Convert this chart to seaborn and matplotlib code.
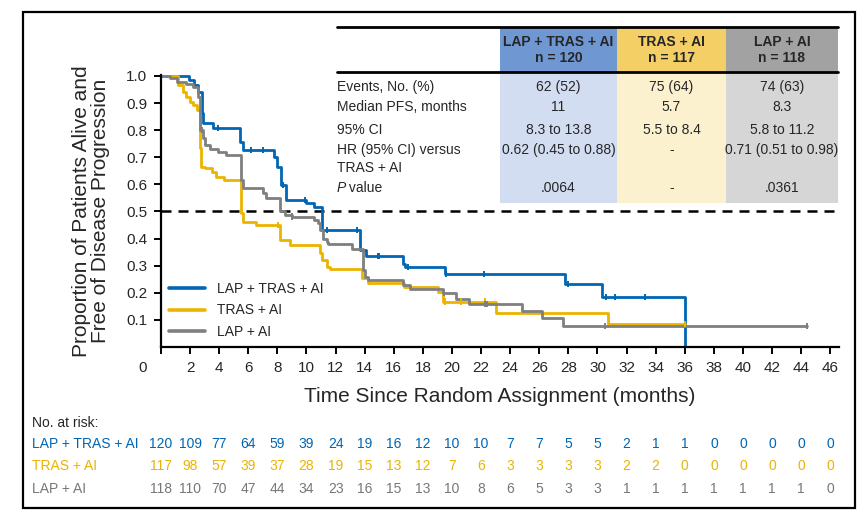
import numpy as np
import pandas as pd
import seaborn as sns
import matplotlib.pyplot as plt
from matplotlib.patches import Rectangle
from matplotlib.lines import Line2D
from matplotlib.transforms import blended_transform_factory

arms = ['LAP + TRAS + AI', 'TRAS + AI', 'LAP + AI']
colors = ['#0066B3', '#EBB400', '#7F7F7F']

# Kaplan-Meier steps (months, proportion)
t_lta = [0, 1.9, 2.3, 2.55, 2.8, 2.9, 3.6, 5.4, 5.65, 7.8, 8.0, 8.25, 8.6, 10.0, 10.5, 11.05,
         13.7, 14.1, 16.6, 16.8, 19.5, 27.8, 30.3, 36.0]
s_lta = [1.0, 0.985, 0.967, 0.942, 0.863, 0.826, 0.808, 0.757, 0.727, 0.702, 0.665, 0.598, 0.542,
         0.53, 0.518, 0.432, 0.358, 0.336, 0.305, 0.295, 0.269, 0.232, 0.185, 0.0]
t_ta = [0, 1.15, 1.5, 1.75, 2.0, 2.2, 2.45, 2.7, 2.75, 3.0, 3.5, 3.8, 4.3, 5.5, 5.65, 6.5, 8.2,
        8.9, 10.95, 11.05, 11.4, 11.6, 13.8, 14.2, 16.7, 19.05, 19.4, 23.0, 30.7, 36.0]
s_ta = [1.0, 0.967, 0.942, 0.924, 0.905, 0.893, 0.875, 0.734, 0.665, 0.66, 0.647, 0.628, 0.616,
        0.494, 0.462, 0.45, 0.395, 0.376, 0.347, 0.321, 0.296, 0.288, 0.253, 0.237, 0.222, 0.204,
        0.167, 0.127, 0.085, 0.085]
t_la = [0, 0.6, 1.1, 1.75, 2.2, 2.55, 2.7, 2.9, 3.0, 3.35, 3.9, 4.5, 5.5, 5.65, 7.0, 7.25, 8.2,
        8.5, 9.0, 10.5, 10.8, 10.9, 11.15, 11.4, 11.5, 13.1, 13.9, 14.0, 14.25, 16.6, 17.1, 19.4,
        20.3, 21.2, 24.8, 26.2, 27.6, 44.4]
s_la = [1.0, 0.991, 0.979, 0.97, 0.96, 0.924, 0.80, 0.77, 0.745, 0.729, 0.72, 0.708, 0.616, 0.585,
        0.567, 0.548, 0.50, 0.487, 0.481, 0.469, 0.456, 0.432, 0.40, 0.389, 0.38, 0.36, 0.284,
        0.259, 0.247, 0.229, 0.214, 0.199, 0.177, 0.159, 0.133, 0.107, 0.078, 0.078]

# censoring times
c_lta = [3.9, 6.2, 7.0, 8.4, 9.9, 11.4, 13.5, 14.9, 15.0, 17.0, 19.6, 22.2, 28.0, 30.6, 31.2, 33.3]
c_ta = [8.05, 19.5, 20.6, 22.3, 36.0]
c_la = [2.85, 9.0, 19.45, 22.3, 22.4, 30.5, 44.4]

months = list(range(0, 47, 2))
risk_lta = [120, 109, 77, 64, 59, 39, 24, 19, 16, 12, 10, 10, 7, 7, 5, 5, 2, 1, 1, 0, 0, 0, 0, 0]
risk_ta = [117, 98, 57, 39, 37, 28, 19, 15, 13, 12, 7, 6, 3, 3, 3, 3, 2, 2, 0, 0, 0, 0, 0, 0]
risk_la = [118, 110, 70, 47, 44, 34, 23, 16, 15, 13, 10, 8, 6, 5, 3, 3, 1, 1, 1, 1, 1, 1, 1, 0]

n_arm = [120, 117, 118]
row_labels = ['Events, No. (%)', 'Median PFS, months', '95% CI', 'HR (95% CI) versus', 'value']
col_lta = ['62 (52)', '11', '8.3 to 13.8', '0.62 (0.45 to 0.88)', '.0064']
col_ta = ['75 (64)', '5.7', '5.5 to 8.4', '-', '-']
col_la = ['74 (63)', '8.3', '5.8 to 11.2', '0.71 (0.51 to 0.98)', '.0361']

head_colors = ['#6F98D3', '#F4CF66', '#A2A2A2']
body_colors = ['#D2DDF2', '#FCF1CF', '#D6D6D6']

sns.set_style('ticks')
plt.rcParams['font.family'] = ['Liberation Sans', 'DejaVu Sans']

W, H = 865, 525
fx = lambda px: px / W
fy = lambda py: 1 - py / H

curves = pd.concat([
    pd.DataFrame({'t': t_lta, 's': s_lta, 'arm': arms[0]}),
    pd.DataFrame({'t': t_ta, 's': s_ta, 'arm': arms[1]}),
    pd.DataFrame({'t': t_la, 's': s_la, 'arm': arms[2]}),
], ignore_index=True)


def cens_frame(ts, ss, cs, arm):
    idx = np.searchsorted(np.asarray(ts), cs, side='right') - 1
    return pd.DataFrame({'t': cs, 's': np.asarray(ss)[idx], 'arm': arm})


cens = pd.concat([cens_frame(t_lta, s_lta, c_lta, arms[0]),
                  cens_frame(t_ta, s_ta, c_ta, arms[1]),
                  cens_frame(t_la, s_la, c_la, arms[2])], ignore_index=True)

fig = plt.figure(figsize=(8.65, 5.25), dpi=100)
ax = fig.add_axes([fx(161), fy(347), 678 / W, 272.4 / H])
pal = dict(zip(arms, colors))

sns.lineplot(data=curves, x='t', y='s', hue='arm', hue_order=arms, palette=pal,
             estimator=None, sort=False, drawstyle='steps-post', lw=2.0, ax=ax, legend=False)
sns.scatterplot(data=cens, x='t', y='s', hue='arm', hue_order=arms, palette=pal,
                marker='|', s=22, linewidth=1.4, ax=ax, legend=False, zorder=4)

ax.axhline(0.5, color='black', ls=(0, (4, 2.8)), lw=1.8, zorder=1)

ax.set_xlim(0, 46.6)
ax.set_ylim(0, 1.005)
ax.set_xticks(months)
ax.set_xticklabels([''] + [str(m) for m in months[1:]], fontsize=11)
yt = np.round(np.arange(0.1, 1.01, 0.1), 1)
ax.set_yticks(yt)
ax.set_yticklabels([f'{v:.1f}' for v in yt], fontsize=11)
ax.tick_params(axis='both', direction='out', length=5, width=1.4, color='black', pad=5)
for sp in ['top', 'right']:
    ax.spines[sp].set_visible(False)
for sp in ['left', 'bottom']:
    ax.spines[sp].set_linewidth(1.6)
    ax.spines[sp].set_color('black')
ax.set_xlabel('')
ax.set_ylabel('')

handles = [Line2D([], [], color=c, lw=2.6) for c in colors]
ax.legend(handles, arms, loc='upper left', bbox_to_anchor=(0.0, 0.27), frameon=False,
          fontsize=10, handlelength=2.6, handletextpad=0.8, labelspacing=0.55, borderaxespad=0.2)

fig.text(fx(143), fy(368), '0', ha='center', va='center', fontsize=11)
fig.text(fx(91), fy(211), 'Proportion of Patients Alive and\nFree of Disease Progression',
         rotation=90, ha='center', va='center', fontsize=15, linespacing=1.05)
fig.text(fx(500), fy(396), 'Time Since Random Assignment (months)', ha='center', va='center',
         fontsize=15)

# summary table
col_x = [(500, 617), (617, 726), (726, 838)]
cols = [col_lta, col_ta, col_la]
for (x0, x1), hc, bc in zip(col_x, head_colors, body_colors):
    fig.patches.append(Rectangle((fx(x0), fy(72)), (x1 - x0) / W, 45 / H, transform=fig.transFigure,
                                 facecolor=hc, edgecolor='none', zorder=0))
    fig.patches.append(Rectangle((fx(x0), fy(203)), (x1 - x0) / W, 131 / H, transform=fig.transFigure,
                                 facecolor=bc, edgecolor='none', zorder=0))
for yy in (27, 72):
    fig.add_artist(Line2D([fx(337), fx(838)], [fy(yy), fy(yy)], color='black', lw=2.0))
for (x0, x1), arm, n in zip(col_x, arms, n_arm):
    xc = fx((x0 + x1) / 2)
    fig.text(xc, fy(42), arm, ha='center', va='center', fontsize=10, fontweight='bold')
    fig.text(xc, fy(58), f'n = {n}', ha='center', va='center', fontsize=10, fontweight='bold')
row_y = [87, 107, 130, 150, 188]
for lab, yy in zip(row_labels, row_y):
    if lab == 'value':
        fig.text(fx(337), fy(yy), 'P', ha='left', va='center', fontsize=10, style='italic')
        fig.text(fx(345), fy(yy), ' value', ha='left', va='center', fontsize=10)
    else:
        fig.text(fx(337), fy(yy), lab, ha='left', va='center', fontsize=10)
fig.text(fx(337), fy(168), 'TRAS + AI', ha='left', va='center', fontsize=10)
for (x0, x1), vals in zip(col_x, cols):
    for v, yy in zip(vals, row_y):
        fig.text(fx((x0 + x1) / 2), fy(yy), v, ha='center', va='center', fontsize=10)

# number at risk
fig.text(fx(32), fy(423), 'No. at risk:', ha='left', va='center', fontsize=10)
tr = blended_transform_factory(ax.transData, fig.transFigure)
for arm, c, risk, yy in zip(arms, ['#0066B3', '#EBB400', '#777777'], [risk_lta, risk_ta, risk_la],
                            [444, 466, 489]):
    fig.text(fx(32), fy(yy), arm, ha='left', va='center', fontsize=10, color=c)
    for m, r in zip(months, risk):
        ax.text(m, fy(yy), str(r), transform=tr, ha='center', va='center', fontsize=10, color=c,
                clip_on=False)

# outer frame
fig.patches.append(Rectangle((fx(23), fy(508)), 832 / W, 496 / H, transform=fig.transFigure,
                             fill=False, edgecolor='black', lw=1.6))

fig.savefig('out.png', dpi=100)
